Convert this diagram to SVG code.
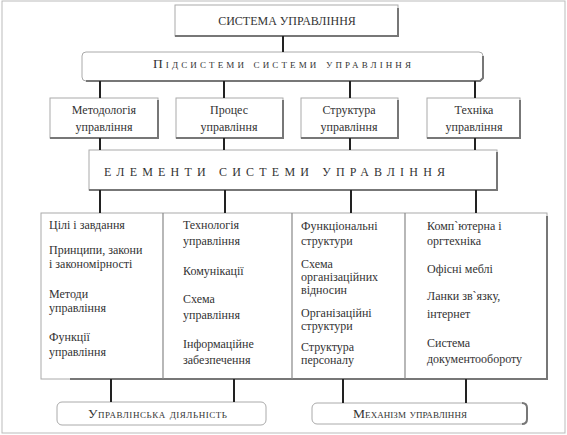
<svg xmlns="http://www.w3.org/2000/svg" width="567" height="435" viewBox="0 0 567 435">
<style>
text{font-family:"Liberation Serif","DejaVu Serif","Times New Roman",serif;font-size:12px;fill:#333}
.c{text-anchor:middle}
.sc{font-variant:small-caps;font-size:13.5px}
.box{fill:#fff;stroke:#aaa;stroke-width:1}
.sh{fill:none;stroke:#777;stroke-width:2}
.con line{stroke:#222;stroke-width:2}
</style>
<rect x="0" y="0" width="567" height="435" fill="#fff"/>
<rect x="2" y="1" width="563" height="432" fill="none" stroke="#bbb" stroke-width="1"/>

<g id="top">
<rect class="box" x="175" y="5" width="223" height="31"/>
<polyline class="sh" points="175,36 398,36 398,8"/>
<text class="c" x="287" y="25" font-size="12.5">СИСТЕМА УПРАВЛІННЯ</text>
</g>

<g id="subsystems">
<rect class="box" x="82" y="52" width="401" height="29" rx="4"/>
<polyline class="sh" points="86,81 480,81 483,78 483,56"/>
<text class="sc" x="153" y="68" textLength="258" lengthAdjust="spacing">Підсистеми системи управління</text>
</g>

<g id="method">
<rect class="box" x="50" y="98" width="108" height="40"/>
<polyline class="sh" points="50,138 158,138 158,100"/>
<text class="c" x="104" y="114">Методологія</text>
<text class="c" x="104" y="131">управління</text>
</g>
<g id="process">
<rect class="box" x="176" y="98" width="107" height="40"/>
<polyline class="sh" points="176,138 283,138 283,100"/>
<text class="c" x="229" y="114">Процес</text>
<text class="c" x="229" y="131">управління</text>
</g>
<g id="structure">
<rect class="box" x="301" y="98" width="97" height="40"/>
<polyline class="sh" points="301,138 398,138 398,100"/>
<text class="c" x="349" y="114">Структура</text>
<text class="c" x="349" y="131">управління</text>
</g>
<g id="technique">
<rect class="box" x="427" y="98" width="93" height="40"/>
<polyline class="sh" points="427,138 520,138 520,100"/>
<text class="c" x="474" y="114">Техніка</text>
<text class="c" x="474" y="131">управління</text>
</g>

<g id="elements">
<rect class="box" x="89" y="150" width="408" height="40"/>
<polyline class="sh" points="89,190 497,190 497,152"/>
<text x="104" y="176" textLength="341" lengthAdjust="spacing">ЕЛЕМЕНТИ СИСТЕМИ УПРАВЛІННЯ</text>
</g>

<g id="table">
<rect class="box" x="41" y="213" width="506" height="166"/>
<polyline class="sh" points="70,379 547,379 547,216"/>
<line x1="163" y1="213" x2="163" y2="379" stroke="#888" stroke-width="1.2"/>
<line x1="292" y1="213" x2="292" y2="379" stroke="#888" stroke-width="1.2"/>
<line x1="405" y1="213" x2="405" y2="379" stroke="#888" stroke-width="1.2"/>
</g>
<g id="col1">
<text x="49" y="229">Цілі і завдання</text>
<text x="49" y="254">Принципи, закони</text>
<text x="49" y="268">і закономірності</text>
<text x="49" y="298">Методи</text>
<text x="49" y="312">управління</text>
<text x="49" y="341">Функції</text>
<text x="49" y="356">управління</text>
</g>
<g id="col2">
<text x="183" y="229">Технологія</text>
<text x="183" y="245">управління</text>
<text x="183" y="275">Комунікації</text>
<text x="183" y="303">Схема</text>
<text x="183" y="319">управління</text>
<text x="183" y="348">Інформаційне</text>
<text x="183" y="364">забезпечення</text>
</g>
<g id="col3" style="font-size:11.5px">
<text x="301" y="230">Функціональні</text>
<text x="301" y="245">структури</text>
<text x="301" y="268">Схема</text>
<text x="301" y="281">організаційних</text>
<text x="301" y="294">відносин</text>
<text x="301" y="317">Організаційні</text>
<text x="301" y="330">структури</text>
<text x="301" y="351">Структура</text>
<text x="301" y="364">персоналу</text>
</g>
<g id="col4">
<text x="427" y="230">Комп`ютерна і</text>
<text x="427" y="245">оргтехніка</text>
<text x="427" y="273">Офісні меблі</text>
<text x="427" y="300">Ланки зв`язку,</text>
<text x="427" y="318">інтернет</text>
<text x="427" y="347">Система</text>
<text x="427" y="363">документообороту</text>
</g>

<g id="activity">
<rect class="box" x="57" y="402" width="209" height="23" rx="5"/>
<text class="sc" x="88" y="418" textLength="139" lengthAdjust="spacing">Управлінська діяльність</text>
</g>
<g id="mechanism">
<rect class="box" x="312" y="403" width="215" height="21" rx="5"/>
<path class="sh" d="M522,403 Q527,403 527,408 L527,419 Q527,424 522,424" stroke-width="1.5"/>
<text class="sc" x="353" y="418" textLength="114" lengthAdjust="spacing">Механізм управління</text>
</g>

<g id="connectors" class="con">
<line x1="283" y1="36" x2="283" y2="52"/>
<line x1="100" y1="81" x2="100" y2="98"/>
<line x1="224" y1="81" x2="224" y2="98"/>
<line x1="350" y1="81" x2="350" y2="98"/>
<line x1="475" y1="81" x2="475" y2="98"/>
<line x1="100" y1="138" x2="100" y2="150"/>
<line x1="224" y1="138" x2="224" y2="150"/>
<line x1="350" y1="138" x2="350" y2="150"/>
<line x1="475" y1="138" x2="475" y2="150"/>
<line x1="100" y1="190" x2="100" y2="213"/>
<line x1="225" y1="190" x2="225" y2="213"/>
<line x1="351" y1="190" x2="351" y2="213"/>
<line x1="476" y1="190" x2="476" y2="213"/>
<line x1="111" y1="379" x2="111" y2="402"/>
<line x1="234" y1="379" x2="234" y2="402"/>
<line x1="343" y1="379" x2="343" y2="403"/>
<line x1="466" y1="379" x2="466" y2="403"/>
</g>
</svg>
